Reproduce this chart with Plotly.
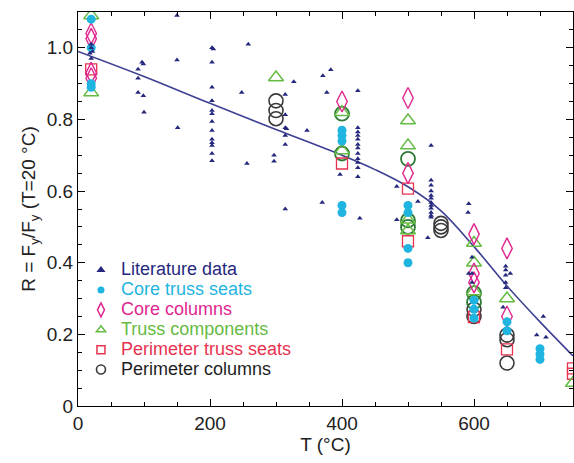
import plotly.graph_objects as go

# ---- data ----
lit_T = [20, 20, 22, 18, 20,
         97, 99, 91, 91, 91, 99, 100,
         150, 150, 151,
         258, 248, 256,
         203, 205, 203, 203, 203, 203, 203, 203, 203, 203, 203, 203, 203, 203,
         297, 297,
         314, 314, 314, 316, 314, 314, 314,
         327, 371, 383, 377, 347, 370, 397,
         424, 424, 424, 424, 424, 424, 424, 424, 424, 424, 424, 424,
         427, 483, 483, 515, 530, 535,
         535, 535, 535, 535, 535, 535, 535, 535, 535, 535, 535,
         592, 591, 597, 592, 597, 597,
         648, 648, 648, 648, 648, 655, 644,
         705, 695, 709]
lit_R = [1.00, 1.01, 0.99, 0.985, 0.97,
         0.96, 0.955, 0.94, 0.915, 0.875, 0.866, 0.82,
         1.09, 0.966, 0.777,
         1.01, 0.875, 0.677,
         1.00, 0.997, 0.96, 0.89, 0.852, 0.825, 0.816, 0.794, 0.769, 0.745, 0.735, 0.727, 0.705, 0.685,
         0.70, 0.683,
         0.87, 0.813, 0.777, 0.774, 0.755, 0.73, 0.55,
         0.905, 0.922, 0.939, 0.875, 0.769, 0.568, 0.646,
         0.88, 0.777, 0.765, 0.755, 0.745, 0.73, 0.72, 0.705, 0.69, 0.68, 0.665, 0.64,
         0.524, 0.613, 0.52, 0.571, 0.47, 0.727,
         0.63, 0.616, 0.60, 0.588, 0.58, 0.568, 0.56, 0.552, 0.54, 0.532, 0.527,
         0.565, 0.54, 0.415, 0.37, 0.37, 0.345,
         0.39, 0.38, 0.365, 0.345, 0.33, 0.37, 0.276,
         0.25, 0.198, 0.192]

cts_T = [20, 20, 20, 20, 400, 400, 400, 400, 400, 500, 500, 500, 500, 600, 600, 600, 650, 650, 700, 700, 700]
cts_R = [1.08, 1.0, 0.90, 0.89, 0.77, 0.755, 0.74, 0.56, 0.54, 0.56, 0.54, 0.44, 0.40, 0.295, 0.27, 0.245, 0.235, 0.21, 0.16, 0.145, 0.13]

cc_T = [20, 20, 20, 20, 400, 500, 500, 600, 600, 600, 650, 650]
cc_R = [1.04, 1.025, 0.93, 0.915, 0.85, 0.86, 0.65, 0.48, 0.37, 0.345, 0.44, 0.25]

tc_T = [20, 20, 300, 400, 400, 500, 500, 500, 500, 600, 600, 600, 650, 750]
tc_R = [1.09, 0.875, 0.917, 0.82, 0.713, 0.797, 0.727, 0.52, 0.49, 0.455, 0.40, 0.32, 0.30, 0.064]

pts_T = [20, 400, 500, 500, 600, 650, 750, 750]
pts_R = [0.94, 0.677, 0.607, 0.46, 0.248, 0.158, 0.105, 0.09]

pc_T = [300, 300, 300, 550, 550, 550, 600, 600, 650, 650, 650]
pc_R = [0.852, 0.825, 0.802, 0.51, 0.50, 0.49, 0.27, 0.25, 0.198, 0.185, 0.12]
# perimeter-column circles that appear dark green in the picture
pcg_T = [400, 400, 500, 500, 500, 600, 600]
pcg_R = [0.816, 0.705, 0.69, 0.518, 0.50, 0.315, 0.29]

fit_T = [0, 100, 200, 300, 400, 450, 500, 550, 600, 650, 700, 750]
fit_R = [0.99, 0.92, 0.845, 0.772, 0.70, 0.66, 0.612, 0.545, 0.445, 0.335, 0.235, 0.14]

x_ticks = [0, 200, 400, 600]
y_ticks = [0, 0.2, 0.4, 0.6, 0.8, 1.0]
y_ticktext = ["0", "0.2", "0.4", "0.6", "0.8", "1.0"]

C_LIT = "#26287e"
C_CYAN = "#1fb5e0"
C_MAG = "#e0278f"
C_GRN = "#66bb44"
C_RED = "#e8324f"
C_BLK = "#3a3a3a"
C_DGRN = "#2e7a36"

def lab(txt, col):
    return "<span style='color:%s;font-size:18px'>%s</span>" % (col, txt)

fig = go.Figure()
fig.add_trace(go.Scatter(x=fit_T, y=fit_R, mode="lines", line=dict(color="#3d3f92", width=1.6, shape="spline"),
                         showlegend=False))
fig.add_trace(go.Scatter(x=pc_T, y=pc_R, mode="markers", showlegend=False,
                         marker=dict(symbol="circle-open", size=14, color=C_BLK, line=dict(width=1.6))))
fig.add_trace(go.Scatter(x=pcg_T, y=pcg_R, mode="markers", showlegend=False,
                         marker=dict(symbol="circle-open", size=14, color=C_DGRN, line=dict(width=1.8))))
fig.add_trace(go.Scatter(x=pts_T, y=pts_R, mode="markers", showlegend=False,
                         marker=dict(symbol="square-open", size=11, color=C_RED, line=dict(width=1.3))))
fig.add_trace(go.Scatter(x=tc_T, y=tc_R, mode="markers", showlegend=False,
                         marker=dict(symbol="triangle-up-open", size=13, color=C_GRN, line=dict(width=1.5))))
fig.add_trace(go.Scatter(x=cc_T, y=cc_R, mode="markers", showlegend=False,
                         marker=dict(symbol="diamond-tall-open", size=15, color=C_MAG, line=dict(width=1.4))))
fig.add_trace(go.Scatter(x=cts_T, y=cts_R, mode="markers", showlegend=False,
                         marker=dict(symbol="circle", size=9, color=C_CYAN)))
fig.add_trace(go.Scatter(x=lit_T, y=lit_R, mode="markers", showlegend=False,
                         marker=dict(symbol="triangle-up", size=5, color=C_LIT)))

# legend entries (small symbols, as in the reference legend)
legend_items = [
    ("Literature data", C_LIT, "triangle-up", 8, 0, C_LIT),
    ("Core truss seats", C_CYAN, "circle", 7, 0, C_CYAN),
    ("Core columns", C_MAG, "diamond-tall-open", 10, 1.5, C_MAG),
    ("Truss components", C_GRN, "triangle-up-open", 8, 1.5, C_GRN),
    ("Perimeter truss seats", C_RED, "square-open", 8, 1.5, C_RED),
    ("Perimeter columns", C_BLK, "circle-open", 9, 1.6, "#1e1e1e"),
]
for name, col, sym, sz, lw, tcol in legend_items:
    fig.add_trace(go.Scatter(x=[None], y=[None], mode="markers", name=lab(name, tcol),
                             marker=dict(symbol=sym, size=sz, color=col, line=dict(width=lw, color=col))))

axis_common = dict(showline=True, linecolor="black", linewidth=1.2, mirror="ticks",
                   ticks="inside", ticklen=7, tickcolor="black", showgrid=False, zeroline=False,
                   tickfont=dict(size=19, color="#222"))

fig.update_layout(
    width=574, height=463,
    margin=dict(l=78, r=1, t=12, b=57),
    paper_bgcolor="white", plot_bgcolor="white",
    font=dict(family="Arial, Liberation Sans, Helvetica, sans-serif", size=15, color="#222"),
    showlegend=True,
    legend=dict(x=0.006, y=0.383, xanchor="left", yanchor="top", traceorder="normal",
                bgcolor="rgba(0,0,0,0)", font=dict(size=13), itemwidth=30, tracegroupgap=0),
    xaxis=dict(range=[0, 750], tickvals=x_ticks, ticktext=[str(v) for v in x_ticks],
               title=dict(text="T (°C)", font=dict(size=19), standoff=4),
               minor=dict(dtick=50, ticks="inside", ticklen=4, tickcolor="black", showgrid=False),
               **axis_common),
    yaxis=dict(range=[0, 1.1], tickvals=y_ticks, ticktext=y_ticktext,
               title=dict(text="R = F<sub>y</sub>/F<sub>y</sub> (T=20 °C)", font=dict(size=19), standoff=6),
               minor=dict(dtick=0.05, ticks="inside", ticklen=4, tickcolor="black", showgrid=False),
               **axis_common),
)

fig.write_html("out.html")
